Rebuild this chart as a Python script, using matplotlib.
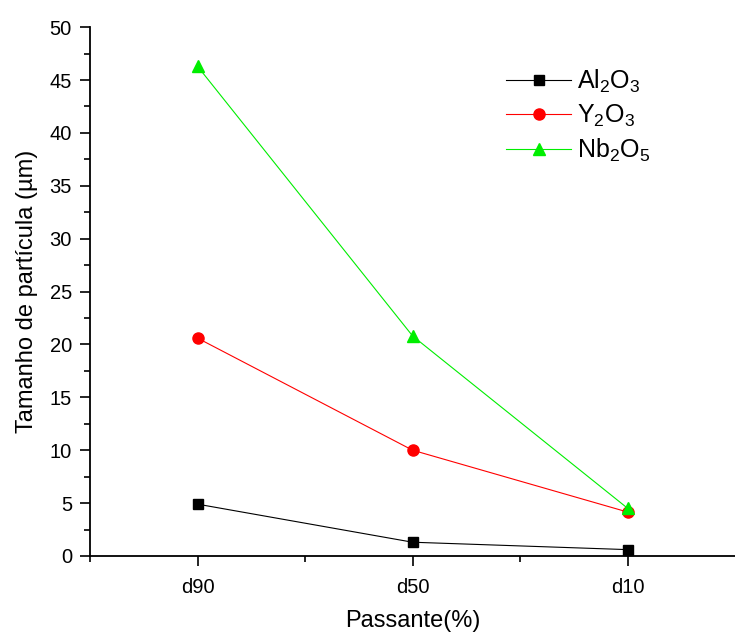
import matplotlib
matplotlib.use("Agg")
import matplotlib.pyplot as plt
from matplotlib.ticker import MultipleLocator, FixedLocator

categories = ["d90", "d50", "d10"]
al2o3 = [4.9, 1.3, 0.6]
y2o3 = [20.6, 10.0, 4.15]
nb2o5 = [46.3, 20.8, 4.5]

plt.rcParams['font.family'] = ['Liberation Sans', 'DejaVu Sans']
plt.rcParams['mathtext.fontset'] = 'custom'
plt.rcParams['mathtext.rm'] = 'Liberation Sans'
plt.rcParams['mathtext.it'] = 'Liberation Sans'

fig = plt.figure(figsize=(7.35, 6.32), dpi=100)
ax = fig.add_axes([0.1224, 0.1203, 0.878, 0.8367])
x = list(range(len(categories)))

ax.plot(x, al2o3, color='black', lw=0.8, marker='s', ms=7, label=r'Al$_2$O$_3$')
ax.plot(x, y2o3, color='red', lw=0.8, marker='o', ms=8, label=r'Y$_2$O$_3$')
ax.plot(x, nb2o5, color='#00ee00', lw=0.8, marker='^', ms=9, label=r'Nb$_2$O$_5$')

ax.set_xlim(-0.5, 2.5)
ax.set_ylim(0, 50)
ax.set_xticks(x)
ax.set_xticklabels(categories)
ax.xaxis.set_minor_locator(FixedLocator([-0.5, 0.5, 1.5]))
ax.yaxis.set_major_locator(MultipleLocator(5))
ax.yaxis.set_minor_locator(MultipleLocator(2.5))

for s in ['top', 'right']:
    ax.spines[s].set_visible(False)
for s in ['left', 'bottom']:
    ax.spines[s].set_linewidth(1.3)

ax.tick_params(which='major', length=7, width=1.2, labelsize=14.5, direction='out')
ax.tick_params(which='minor', length=4, width=1.2, direction='out')
ax.tick_params(axis='x', pad=9)
ax.tick_params(axis='y', pad=6)

ax.set_xlabel('Passante(%)', fontsize=17, labelpad=9)
ax.set_ylabel('Tamanho de partícula (µm)', fontsize=17, labelpad=8)

ax.legend(loc='upper left', bbox_to_anchor=(0.61, 0.965), frameon=False, fontsize=18,
          handlelength=2.6, handletextpad=0.25, labelspacing=0.3)

fig.savefig('out.png', dpi=100)
